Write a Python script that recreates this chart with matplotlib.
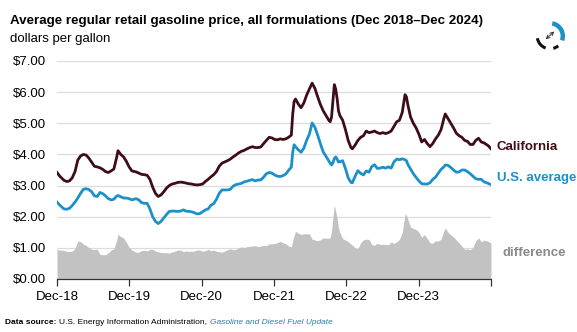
import pandas as pd
import numpy as np
from matplotlib import pyplot as plt
from matplotlib.patches import Arc, FancyArrowPatch

# weekly-ish samples of regular retail gasoline price, dollars per gallon
dates = [
    '2018-12-03', '2018-12-17', '2019-01-07', '2019-01-21', '2019-02-04', '2019-02-18',
    '2019-03-04', '2019-03-18', '2019-04-01', '2019-04-15', '2019-04-29', '2019-05-13',
    '2019-05-27', '2019-06-10', '2019-06-24', '2019-07-08', '2019-07-22', '2019-08-05',
    '2019-08-19', '2019-09-02', '2019-09-16', '2019-09-30', '2019-10-07', '2019-10-21',
    '2019-11-04', '2019-11-18', '2019-12-02', '2019-12-16', '2020-01-06', '2020-01-20',
    '2020-02-03', '2020-02-17', '2020-03-02', '2020-03-16', '2020-03-30', '2020-04-13',
    '2020-04-27', '2020-05-11', '2020-05-25', '2020-06-08', '2020-06-22', '2020-07-06',
    '2020-07-20', '2020-08-03', '2020-08-17', '2020-09-01', '2020-09-14', '2020-09-28',
    '2020-10-12', '2020-10-26', '2020-11-09', '2020-11-23', '2020-12-07', '2020-12-21',
    '2021-01-04', '2021-01-18', '2021-02-01', '2021-02-15', '2021-03-01', '2021-03-15',
    '2021-03-29', '2021-04-12', '2021-04-26', '2021-05-10', '2021-05-24', '2021-06-07',
    '2021-06-21', '2021-07-05', '2021-07-19', '2021-08-02', '2021-08-16', '2021-08-30',
    '2021-09-13', '2021-09-27', '2021-10-11', '2021-10-25', '2021-11-08', '2021-11-22',
    '2021-12-06', '2021-12-20', '2022-01-03', '2022-01-17', '2022-01-31', '2022-02-14',
    '2022-02-28', '2022-03-07', '2022-03-14', '2022-03-21', '2022-04-04', '2022-04-18',
    '2022-05-02', '2022-05-16', '2022-05-30', '2022-06-13', '2022-06-27', '2022-07-11',
    '2022-07-25', '2022-08-08', '2022-08-22', '2022-09-05', '2022-09-12', '2022-09-19',
    '2022-09-26', '2022-10-03', '2022-10-10', '2022-10-17', '2022-10-24', '2022-10-31',
    '2022-11-14', '2022-11-28', '2022-12-12', '2022-12-26', '2023-01-02', '2023-01-16',
    '2023-01-30', '2023-02-13', '2023-02-27', '2023-03-13', '2023-03-27', '2023-04-10',
    '2023-04-24', '2023-05-08', '2023-05-22', '2023-06-05', '2023-06-19', '2023-07-03',
    '2023-07-17', '2023-07-31', '2023-08-14', '2023-08-28', '2023-09-11', '2023-09-25',
    '2023-10-02', '2023-10-09', '2023-10-23', '2023-11-06', '2023-11-20', '2023-12-04',
    '2023-12-18', '2024-01-01', '2024-01-15', '2024-01-29', '2024-02-12', '2024-02-26',
    '2024-03-11', '2024-03-25', '2024-04-08', '2024-04-15', '2024-04-29', '2024-05-13',
    '2024-05-27', '2024-06-10', '2024-06-24', '2024-07-08', '2024-07-22', '2024-08-05',
    '2024-08-19', '2024-09-02', '2024-09-16', '2024-09-30', '2024-10-14', '2024-10-28',
    '2024-11-18', '2024-12-02',
]

california = [
    3.42, 3.30, 3.17, 3.13, 3.15, 3.25,
    3.45, 3.82, 3.95, 4.00, 3.98, 3.88,
    3.75, 3.62, 3.60, 3.57, 3.52, 3.45,
    3.42, 3.47, 3.53, 3.90, 4.12, 4.00,
    3.92, 3.78, 3.60, 3.47, 3.44, 3.40,
    3.36, 3.35, 3.33, 3.20, 2.95, 2.75,
    2.65, 2.70, 2.80, 2.92, 3.00, 3.05,
    3.07, 3.10, 3.11, 3.10, 3.08, 3.06,
    3.05, 3.03, 3.02, 3.03, 3.05, 3.13,
    3.20, 3.28, 3.35, 3.45, 3.62, 3.72,
    3.76, 3.80, 3.85, 3.92, 3.98, 4.05,
    4.10, 4.13, 4.18, 4.22, 4.25, 4.22,
    4.22, 4.24, 4.35, 4.45, 4.55, 4.53,
    4.48, 4.47, 4.50, 4.48, 4.50, 4.55,
    4.62, 5.30, 5.70, 5.78, 5.62, 5.50,
    5.65, 5.90, 6.10, 6.29, 6.12, 5.85,
    5.60, 5.40, 5.25, 5.10, 5.05, 5.20,
    5.70, 6.24, 6.10, 5.80, 5.40, 5.25,
    5.10, 4.80, 4.45, 4.22, 4.18, 4.30,
    4.45, 4.55, 4.60, 4.75, 4.70, 4.72,
    4.75, 4.70, 4.67, 4.70, 4.67, 4.70,
    4.75, 4.90, 5.05, 5.10, 5.35, 5.92,
    5.85, 5.60, 5.20, 5.00, 4.85, 4.65,
    4.40, 4.48, 4.35, 4.25, 4.35, 4.50,
    4.62, 4.80, 5.15, 5.30, 5.15, 5.00,
    4.85, 4.68, 4.60, 4.55, 4.45, 4.42,
    4.32, 4.32, 4.45, 4.52, 4.40, 4.37,
    4.28, 4.18,
]

us_average = [
    2.47, 2.37, 2.25, 2.24, 2.27, 2.36,
    2.47, 2.60, 2.75, 2.88, 2.90, 2.87,
    2.80, 2.67, 2.65, 2.78, 2.74, 2.67,
    2.58, 2.54, 2.56, 2.66, 2.68, 2.64,
    2.60, 2.60, 2.58, 2.54, 2.58, 2.54,
    2.45, 2.43, 2.43, 2.25, 2.00, 1.85,
    1.78, 1.85, 1.96, 2.07, 2.17, 2.18,
    2.18, 2.17, 2.18, 2.22, 2.18, 2.17,
    2.16, 2.13, 2.09, 2.10, 2.16, 2.22,
    2.25, 2.37, 2.42, 2.56, 2.75, 2.86,
    2.86, 2.86, 2.88, 2.98, 3.03, 3.05,
    3.07, 3.12, 3.14, 3.17, 3.19, 3.15,
    3.18, 3.18, 3.27, 3.38, 3.42, 3.40,
    3.34, 3.30, 3.29, 3.32, 3.37, 3.49,
    3.59, 4.07, 4.31, 4.25, 4.15, 4.07,
    4.20, 4.45, 4.65, 5.01, 4.87, 4.62,
    4.34, 4.08, 3.94, 3.79, 3.72, 3.66,
    3.73, 3.87, 3.92, 3.85, 3.76, 3.76,
    3.80, 3.55, 3.25, 3.10, 3.09, 3.30,
    3.48, 3.39, 3.34, 3.47, 3.43, 3.61,
    3.67, 3.55, 3.56, 3.59, 3.56, 3.60,
    3.56, 3.76, 3.85, 3.83, 3.86, 3.83,
    3.80, 3.68, 3.53, 3.38, 3.26, 3.15,
    3.06, 3.05, 3.05, 3.09, 3.20, 3.27,
    3.40, 3.52, 3.60, 3.66, 3.65, 3.58,
    3.50, 3.43, 3.44, 3.50, 3.50, 3.45,
    3.38, 3.30, 3.22, 3.20, 3.20, 3.12,
    3.07, 3.03,
]

tick_labels = ['Dec-18', 'Dec-19', 'Dec-20', 'Dec-21', 'Dec-22', 'Dec-23', '']

ca_color = '#3f0d17'
us_color = '#1b90c9'
diff_color = '#c2c2c2'

plt.rcParams['font.family'] = ['Liberation Sans', 'DejaVu Sans']

price_date = pd.to_datetime(dates)
ca = np.array(california)
us = np.array(us_average)
difference = ca - us

fig = plt.figure(figsize=(5.77, 3.32), dpi=100)
ax = fig.add_axes([57 / 577, 53 / 332, 434 / 577, 218 / 332])

ax.fill_between(price_date, 0, difference, color=diff_color, lw=0)
ax.plot(price_date, us, color=us_color, lw=2.0, solid_joinstyle='round')
ax.plot(price_date, ca, color=ca_color, lw=2.0, solid_joinstyle='round')

ax.set_ylim(0, 7)
ax.set_yticks(np.arange(0, 8))
ax.set_yticklabels(['${:.2f}'.format(v) for v in range(8)], fontsize=9.5)
ax.grid(axis='y', color='#dcdcdc', lw=0.9)
ax.set_axisbelow(True)

xticks = pd.to_datetime(['2018-12-03', '2019-12-03', '2020-12-03', '2021-12-03',
                         '2022-12-03', '2023-12-03', '2024-12-02'])
ax.set_xlim(price_date[0], price_date[-1])
ax.set_xticks(xticks)
ax.set_xticklabels(tick_labels, fontsize=9.5)
ax.tick_params(axis='x', length=5, width=0.9, color='#333333', pad=4)
ax.tick_params(axis='y', length=0, pad=8)

for side in ['top', 'right', 'left']:
    ax.spines[side].set_visible(False)
ax.spines['bottom'].set_color('#333333')
ax.spines['bottom'].set_linewidth(0.9)

# series labels at the right end
ax.text(1.013, 4.25 / 7, 'California', transform=ax.transAxes, color=ca_color,
        fontsize=9.5, fontweight='bold', va='center')
ax.text(1.013, 3.23 / 7, 'U.S. average', transform=ax.transAxes, color=us_color,
        fontsize=9.5, fontweight='bold', va='center')
ax.text(1.027, 0.85 / 7, 'difference', transform=ax.transAxes, color='#8a8a8a',
        fontsize=9.5, fontweight='bold', va='center')

fig.text(10 / 577, 1 - 21 / 332, 'Average regular retail gasoline price, all formulations (Dec 2018\u2013Dec 2024)',
         fontsize=9.6, fontweight='bold', va='center')
fig.text(10 / 577, 1 - 39 / 332, 'dollars per gallon', fontsize=9.5, va='center')

# source line
src_y = 1 - 323 / 332
t1 = fig.text(5 / 577, src_y, 'Data source:', fontsize=6, fontweight='bold', va='center')
fig.canvas.draw()
r = fig.canvas.get_renderer()
x1 = t1.get_window_extent(r).x1 + 3
t2 = fig.text(x1 / 577, src_y, 'U.S. Energy Information Administration,', fontsize=6, va='center')
x2 = t2.get_window_extent(r).x1 + 3
fig.text(x2 / 577, src_y, 'Gasoline and Diesel Fuel Update', fontsize=6, style='italic',
         color='#2c7fa5', va='center')

# expand icon, top right
icon = fig.add_axes([534 / 577, 1 - 52 / 332, 32 / 577, 32 / 332])
icon.set_xlim(-1.25, 1.25)
icon.set_ylim(-1.25, 1.25)
icon.set_aspect('equal')
icon.axis('off')
icon.add_patch(Arc((0, 0), 2, 2, theta1=-20, theta2=80, color=us_color, lw=3.2))
icon.add_patch(Arc((0, 0), 2, 2, theta1=190, theta2=250, color='#111111', lw=2.2))
icon.add_patch(Arc((0, 0), 2, 2, theta1=285, theta2=310, color='#111111', lw=2.2))
icon.add_patch(FancyArrowPatch((-0.5, -0.4), (0.5, 0.5), arrowstyle='<->',
                               mutation_scale=6, lw=0.7, color='#333333'))

fig.savefig('out.png', dpi=100)
